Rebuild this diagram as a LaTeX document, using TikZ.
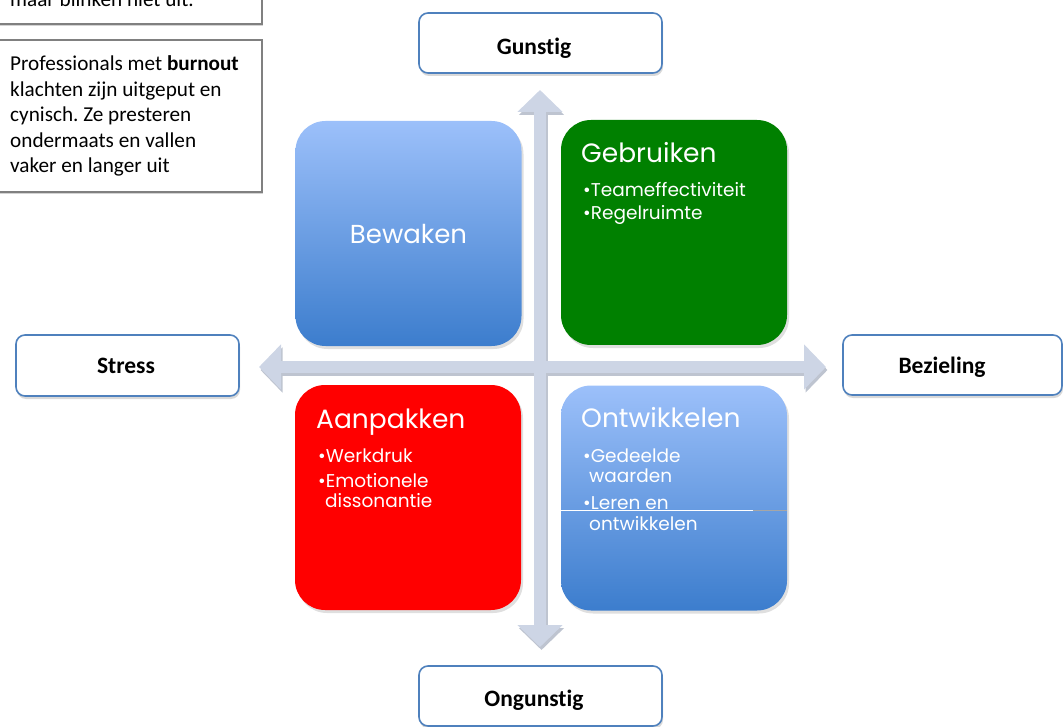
\documentclass[tikz,border=0pt]{standalone}
\usepackage{fontspec}
\setmainfont{Carlito}[Ligatures=NoCommon]
\newfontfamily\gothic{Poppins}
\usetikzlibrary{shadows,arrows.meta,calc}
\frenchspacing

\definecolor{labelblue}{RGB}{79,129,189}
\definecolor{axisfill}{RGB}{205,213,229}
\definecolor{axisshade}{RGB}{190,196,208}
\definecolor{quadtop}{RGB}{156,192,250}
\definecolor{quadbot}{RGB}{60,125,205}
\definecolor{quadgreen}{RGB}{0,128,0}
\definecolor{quadred}{RGB}{255,0,0}
\definecolor{notegray}{RGB}{128,128,128}

\begin{document}
\begin{tikzpicture}[x=1pt,y=-1pt,
  labelbox/.style={draw=labelblue, line width=1.6pt, fill=white,
    rounded corners=9pt, inner sep=0pt,
    drop shadow={shadow xshift=1pt, shadow yshift=-3pt, opacity=0.3}},
  labeltext/.style={font=\fontsize{23.5}{28}\selectfont\bfseries,
    anchor=base, inner sep=0pt},
  notebox/.style={draw=notegray, line width=1.2pt, fill=white, inner sep=0pt,
    drop shadow={shadow xshift=1pt, shadow yshift=-2pt, opacity=0.35}},
  notetext/.style={anchor=base west, inner sep=0pt,
    font=\fontsize{21.2}{25.5}\selectfont},
  quad/.style={rounded corners=30pt, minimum width=226pt, minimum height=225pt,
    inner sep=0pt, text=white, font=\gothic\fontsize{26}{30}\selectfont,
    drop shadow={shadow xshift=2pt, shadow yshift=-3pt, opacity=0.25}},
  bluequad/.style={quad, top color=quadtop, bottom color=quadbot},
  quadtitle/.style={anchor=base west, inner sep=0pt, text=white,
    font=\gothic\fontsize{26.5}{30}\selectfont},
  quadlist/.style={anchor=base west, inner sep=0pt, text=white,
    font=\gothic\fontsize{18.5}{20.5}\selectfont},
  axis/.style={line width=12pt, draw=axisfill,
    {Triangle[width=44pt,length=22pt]}-{Triangle[width=44pt,length=22pt]}},
  axisshadow/.style={axis, draw=axisshade}
]
\useasboundingbox (0,0) rectangle (1063,727);
\clip (0,0) rectangle (1063,727);

% ---- axis end points ----
\coordinate (up) at (540,90);
\coordinate (down) at (540,647);
\coordinate (left) at (259,367);
\coordinate (right) at (826,367);

% ---- axes with a faint shadow ----
\draw[axisshadow] ($(left)+(1.5,3)$) -- ($(right)+(1.5,3)$);
\draw[axisshadow] ($(up)+(1.5,3)$) -- ($(down)+(1.5,3)$);
\draw[axis] (left) -- (right);
\draw[axis] (up) -- (down);

% ---- four quadrants ----
\node[bluequad] (bewaken) at (408.5,233.5) {Bewaken};
\node[quad, fill=quadgreen] (gebruiken) at (674,232.5) {};
\node[quad, fill=quadred] (aanpakken) at (408,497.5) {};
\node[bluequad] (ontwikkelen) at (674,498) {};

\node[quadtitle] (gebruiken-title) at (581,163) {Gebruiken};
\node[quadlist] (gebruiken-list) at (583,197)
  {\parbox[t]{200pt}{\raggedright •Teameffectiviteit\\[2.5pt]•Regelruimte}};

\node[quadtitle] (aanpakken-title) at (316,428) {Aanpakken};
\node[quadlist] (aanpakken-list) at (318,462)
  {\parbox[t]{200pt}{\raggedright •Werkdruk\\[4.5pt]•Emotionele\\\hspace*{7pt}dissonantie}};

\node[quadtitle] (ontwikkelen-title) at (581,427) {Ontwikkelen};
\node[quadlist] (ontwikkelen-list) at (583,462)
  {\parbox[t]{200pt}{\raggedright •Gedeelde\\\hspace*{6pt}waarden\\[6.5pt]•Leren en\\\hspace*{6pt}ontwikkelen}};

% thin seam across the lower right quadrant
\draw[white, line width=1pt] (ontwikkelen.west |- 0,510) -- (753,510);
\draw[black!35, line width=1pt] (753,510) -- (ontwikkelen.east |- 0,510);

% ---- axis labels ----
\node[labelbox, minimum width=243pt, minimum height=60pt] (gunstig-box) at (540.5,43) {};
\node[labeltext] (gunstig) at (534,55) {Gunstig};
\node[labelbox, minimum width=243pt, minimum height=60pt] (ongunstig-box) at (540.5,696) {};
\node[labeltext] (ongunstig) at (534,706) {Ongunstig};
\node[labelbox, minimum width=223pt, minimum height=61pt] (stress-box) at (127.5,365.5) {};
\node[labeltext] (stress) at (126,373) {Stress};
\node[labelbox, minimum width=219pt, minimum height=60pt] (bezieling-box) at (952.5,365) {};
\node[labeltext] (bezieling) at (942,373) {Bezieling};

% ---- notes at the top left ----
\node[notebox, minimum width=272pt, minimum height=54pt] (note-a) at (126,-3) {};
\node[notetext] (note-a-text) at (10,7) {maar blinken niet uit.};
\node[notebox, minimum width=272pt, minimum height=152pt] (note-b) at (126,116) {};
\node[notetext] (note-b-text) at (10,71)
  {\parbox[t]{250pt}{\raggedright Professionals met \textbf{burnout}\\
   klachten zijn uitgeput en\\ cynisch. Ze presteren\\
   ondermaats en vallen\\ vaker en langer uit}};
\end{tikzpicture}
\end{document}
